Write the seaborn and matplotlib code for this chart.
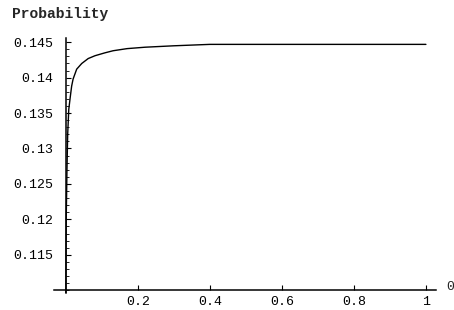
import seaborn as sns
import matplotlib
matplotlib.use('Agg')
import matplotlib.pyplot as plt
from matplotlib.ticker import FixedLocator, MultipleLocator

# values
x_vals = [0.0, 0.0005, 0.001, 0.002, 0.003, 0.005, 0.008, 0.012, 0.016, 0.020,
          0.030, 0.044, 0.062, 0.081, 0.108, 0.131, 0.17, 0.22, 0.30, 0.40,
          0.60, 0.80, 1.0]
y_vals = [0.1096, 0.1160, 0.1205, 0.1235, 0.1270, 0.1320, 0.1355, 0.1372, 0.1388, 0.1398,
          0.1412, 0.1420, 0.1427, 0.1431, 0.1435, 0.1438, 0.1441, 0.1443, 0.1445, 0.1447,
          0.1447, 0.1447, 0.1447]
x_ticks = [0.2, 0.4, 0.6, 0.8, 1.0]
x_labels = ['0.2', '0.4', '0.6', '0.8', '1']
y_ticks = [0.115, 0.12, 0.125, 0.13, 0.135, 0.14, 0.145]
y_labels = ['0.115', '0.12', '0.125', '0.13', '0.135', '0.14', '0.145']

sns.set_style('white')
plt.rcParams['font.family'] = ['Liberation Mono', 'DejaVu Sans Mono']

fig = plt.figure(figsize=(4.54, 3.10), dpi=100)
ax = fig.add_axes([54 / 454, 17 / 310, 382 / 454, 255 / 310])

sns.lineplot(x=x_vals, y=y_vals, ax=ax, color='black', linewidth=1.0)

ax.set_xlim(-0.033, 1.028)
ax.set_ylim(0.1096, 0.1456)

for side in ['top', 'right']:
    ax.spines[side].set_visible(False)
ax.spines['left'].set_position(('data', 0))
ax.spines['bottom'].set_position(('data', 0.11))
for side in ['left', 'bottom']:
    ax.spines[side].set_color('black')
    ax.spines[side].set_linewidth(1.1)

ax.xaxis.set_major_locator(FixedLocator(x_ticks))
ax.set_xticklabels(x_labels)
ax.yaxis.set_major_locator(FixedLocator(y_ticks))
ax.set_yticklabels(y_labels)
ax.yaxis.set_minor_locator(MultipleLocator(0.001))

ax.tick_params(axis='both', which='major', direction='in', length=3.5, width=0.8,
               color='black', labelsize=9.5, labelcolor='black')
ax.tick_params(axis='y', which='minor', direction='in', length=2, width=0.6,
               color='black', left=True)
ax.tick_params(axis='x', which='major', pad=4, bottom=True)
ax.tick_params(axis='y', which='major', pad=9, left=True)

ax.set_xlabel('')
ax.set_ylabel('')
ax.grid(False)

fig.text(12 / 454, 1 - 14 / 310, 'Probability', fontsize=10.5, fontweight='bold',
         ha='left', va='center')
fig.text(446 / 454, 1 - 287 / 310, '0', fontsize=9.5, ha='left', va='center')

fig.savefig('out.png', dpi=100, facecolor='white')
